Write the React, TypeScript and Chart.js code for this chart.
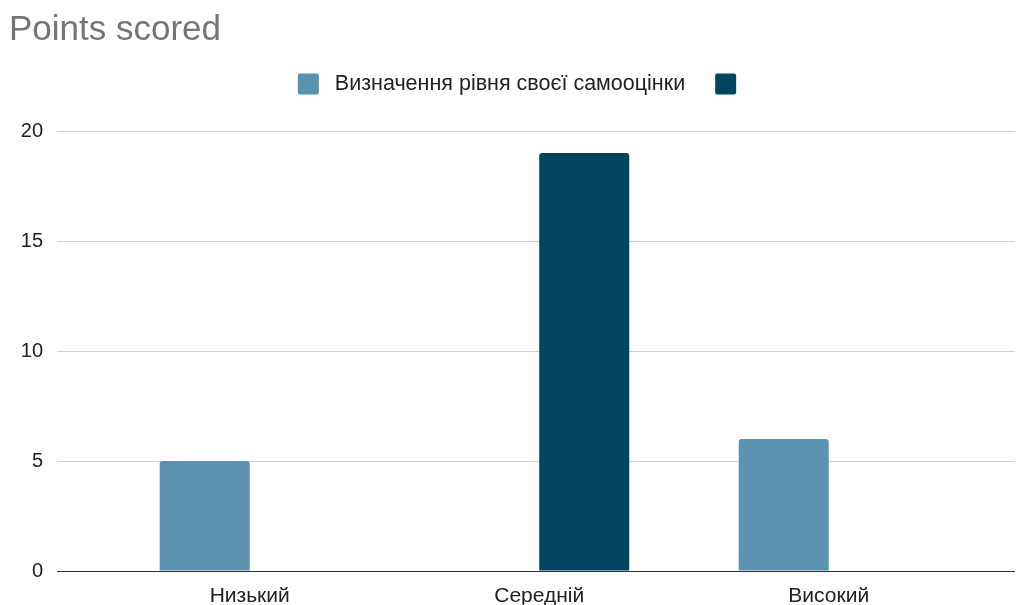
import React, { useEffect, useRef } from "react";
import { Chart, registerables } from "chart.js";

Chart.register(...registerables);

const categories = ["Низький", "Середній", "Високий"];
const seriesSelfEsteem = [5, null, 6];
const seriesSecond = [null, 19, null];
const seriesLabels = ["Визначення рівня своєї самооцінки", ""];
const seriesColors = ["#5a92af", "#03455f"];
const yTicks = [0, 5, 10, 15, 20];

const FONT = "'Liberation Sans', Arial, sans-serif";

const customLegend = {
  id: "customLegend",
  afterDraw(chart: any) {
    const ctx = chart.ctx;
    const fontSize = 21.5;
    const box = 21;
    const gapText = 16;
    const gapItem = 30;
    ctx.save();
    ctx.font = `${fontSize}px ${FONT}`;
    const items = chart.data.datasets.map((ds: any) => ({
      text: ds.label || "",
      color: ds.backgroundColor,
      w: ctx.measureText(ds.label || "").width,
    }));
    let total = 0;
    items.forEach((it: any, i: number) => {
      total += box + gapText + it.w + (i < items.length - 1 ? gapItem : 0);
    });
    const centerX = chart.width / 2 + 17;
    const cy = 84;
    let x = centerX - total / 2;
    items.forEach((it: any) => {
      ctx.fillStyle = it.color;
      ctx.beginPath();
      if ((ctx as any).roundRect) (ctx as any).roundRect(x, cy - box / 2, box, box, 2);
      else ctx.rect(x, cy - box / 2, box, box);
      ctx.fill();
      ctx.fillStyle = "#222222";
      ctx.textBaseline = "middle";
      ctx.textAlign = "left";
      ctx.fillText(it.text, x + box + gapText, cy);
      x += box + gapText + it.w + gapItem;
    });
    ctx.restore();
  },
};

export default function App() {
  const ref = useRef<HTMLCanvasElement | null>(null);
  useEffect(() => {
    if (!ref.current) return;
    const chart = new Chart(ref.current, {
      type: "bar",
      data: {
        labels: categories,
        datasets: [
          {
            label: seriesLabels[0],
            data: seriesSelfEsteem as any,
            backgroundColor: seriesColors[0],
            borderRadius: 3,
          },
          {
            label: seriesLabels[1],
            data: seriesSecond as any,
            backgroundColor: seriesColors[1],
            borderRadius: 3,
          },
        ],
      },
      options: {
        responsive: false,
        animation: false,
        layout: { padding: { left: 9, right: 1, top: 0, bottom: 0 } },
        datasets: {
          bar: { categoryPercentage: 0.6218, barPercentage: 1 },
        },
        plugins: {
          legend: { display: false },
          tooltip: { enabled: false },
          title: {
            display: true,
            text: "Points scored",
            align: "start",
            color: "#757575",
            font: { family: FONT, size: 35, weight: "normal", lineHeight: 1.2 },
            padding: { top: 9, bottom: 80 },
          },
        },
        scales: {
          x: {
            grid: { display: false },
            border: { display: false },
            ticks: {
              color: "#222222",
              font: { family: FONT, size: 21 },
              padding: 5,
            },
            afterBuildTicks: (scale: any) => {
              scale._startValue = -0.6656;
              scale._valueRange = 3.309;
            },
            afterFit: (scale: any) => {
              scale.height = 34;
            },
          },
          y: {
            min: yTicks[0],
            max: yTicks[yTicks.length - 1],
            afterBuildTicks: (scale: any) => {
              scale.ticks = yTicks.map((v) => ({ value: v }));
            },
            grid: {
              drawTicks: false,
              color: (c: any) => (c.tick && c.tick.value === 0 ? "#333333" : "#d0d0d0"),
              lineWidth: 1,
            },
            border: { display: false },
            ticks: {
              color: "#222222",
              font: { family: FONT, size: 20 },
              padding: 14,
            },
            afterFit: (scale: any) => {
              scale.width = 48;
            },
          },
        },
      },
      plugins: [customLegend],
    });
    return () => chart.destroy();
  }, []);
  return (
    <div style={{ position: "fixed", left: 0, top: 0, width: 1016, height: 605, background: "#fff" }}>
      <canvas ref={ref} width={1016} height={605} style={{ display: "block" }} />
    </div>
  );
}
